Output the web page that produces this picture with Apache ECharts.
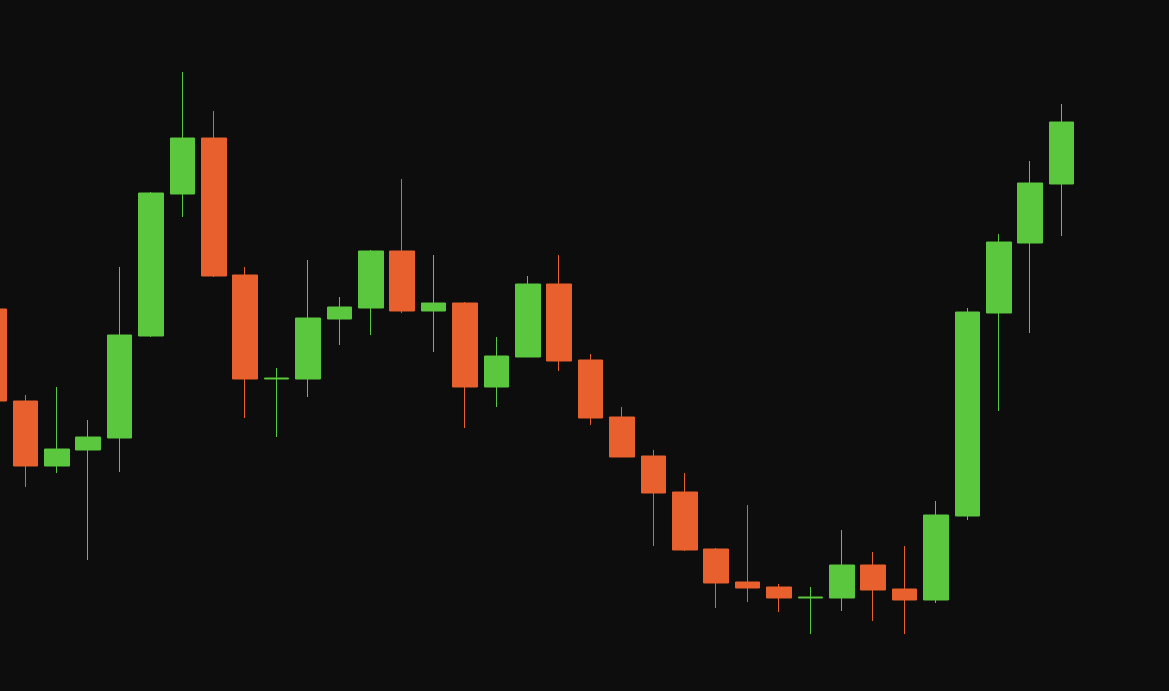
<!DOCTYPE html>
<html>
<head>
<meta charset="utf-8">
<script src="https://cdn.jsdelivr.net/npm/echarts@6/dist/echarts.min.js"></script>
<style>
html,body{margin:0;padding:0;background:#0d0d0d;}
#c{width:1169px;height:691px;}
</style>
</head>
<body>
<div id="c"></div>
<script>
// Sessions (index on the x axis); the view ends with empty room on the right
const categories = ["D1","D2","D3","D4","D5","D6","D7","D8","D9","D10","D11","D12","D13","D14","D15","D16","D17","D18","D19","D20","D21","D22","D23","D24","D25","D26","D27","D28","D29","D30","D31","D32","D33","D34","D35"];
const opens  = [382,290,225,241,253,355,497,553,416,312,312,372,383,440,380,388,304,334,407,331,274,235,199,142,109,104,93,93,126,102,91,175,378,448,507];
const closes = [290,225,242,254,356,498,553,415,312,313,373,384,440,380,388,304,335,407,330,273,234,198,141,108,103,93,94,126,101,91,176,379,449,508,569];
const highs  = [386,296,304,271,424,499,619,580,424,323,431,394,441,512,436,389,354,415,436,337,284,241,218,143,186,107,104,161,139,145,190,383,457,530,587];
const lows   = [286,204,218,131,219,354,474,414,273,254,294,346,356,378,339,263,284,334,320,266,234,145,140,83,89,79,57,80,70,57,88,171,280,358,455];

const data = categories.map((c, i) => [i, opens[i], closes[i], lows[i], highs[i]]);

const chart = echarts.init(document.getElementById('c'));
chart.setOption({
  backgroundColor: '#0d0d0d',
  animation: false,
  grid: { left: 0, right: 0, top: 0, bottom: 0 },
  xAxis: {
    type: 'value', min: 0.19, max: 37.42, show: false, splitLine: { show: false }
  },
  yAxis: {
    type: 'value', min: 0, max: 691, show: false, splitLine: { show: false }
  },
  series: [{
    type: 'candlestick',
    data: data,
    encode: { x: 0, y: [1, 2, 3, 4] },
    barWidth: 25,
    clip: false,
    itemStyle: {
      color: '#5ac73e',
      color0: '#e8602d',
      borderColor: '#5ac73e',
      borderColor0: '#e8602d',
      borderWidth: 1
    }
  }]
});
</script>
</body>
</html>
